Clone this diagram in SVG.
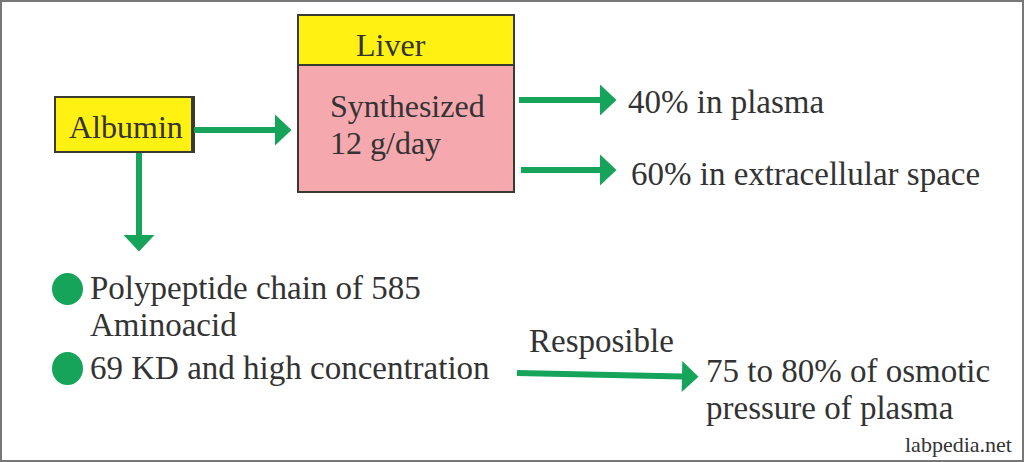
<svg xmlns="http://www.w3.org/2000/svg" width="1024" height="462" viewBox="0 0 1024 462" font-family="'Liberation Serif', 'Times New Roman', 'DejaVu Serif', serif">
<style>
text{font-family:'Liberation Serif','Times New Roman','DejaVu Serif',serif;fill:#333}
.t{font-size:33px}
.s{font-size:32px}
.w{font-size:22px}
.box{stroke:#3a3a30;stroke-width:2}
.yel{fill:#fff212}
.pink{fill:#f5a9af}
.conn line{stroke:#16a35a;stroke-width:6;fill:none}
.dot{fill:#16a35a}
</style>
<defs>
<marker id="ah" markerUnits="userSpaceOnUse" markerWidth="17" markerHeight="32" refX="0" refY="15.5" orient="auto" overflow="visible">
<path d="M0,0 L16.5,15.5 L0,31 Z" fill="#16a35a"/>
</marker>
</defs>
<rect x="1" y="1" width="1022" height="460" fill="#fff" stroke="#777" stroke-width="2"/>
<g id="albumin">
<rect class="box yel" x="55" y="97" width="139" height="55"/>
<rect x="191" y="97" width="3" height="55" fill="#3a3a30"/>
<text class="s" x="69" y="138">Albumin</text>
</g>
<g id="liver">
<rect class="box yel" x="298" y="15" width="216" height="50"/>
<rect class="box pink" x="298" y="65" width="216" height="127"/>
<text class="s" x="356" y="56">Liver</text>
<text class="s" x="330" y="117">Synthesized</text>
<text class="s" x="330" y="154">12 g/day</text>
</g>
<g id="plasma">
<text class="t" x="628" y="113">40% in plasma</text>
</g>
<g id="extracellular">
<text class="t" x="631" y="185">60% in extracellular space</text>
</g>
<g id="properties">
<ellipse class="dot" cx="67.5" cy="289" rx="15.5" ry="16"/>
<ellipse class="dot" cx="67.5" cy="368.5" rx="15.5" ry="16.5"/>
<text class="t" x="90" y="299">Polypeptide chain of 585</text>
<text class="t" x="90" y="336">Aminoacid</text>
<text class="t" x="90" y="379">69 KD and high concentration</text>
</g>
<g id="osmotic">
<text class="t" x="706" y="382">75 to 80% of osmotic</text>
<text class="t" x="706" y="419">pressure of plasma</text>
</g>
<g class="conn" id="connectors">
<line x1="194" y1="130" x2="275" y2="130" marker-end="url(#ah)"/>
<line x1="139" y1="153" x2="139" y2="235" marker-end="url(#ah)"/>
<line x1="519" y1="100" x2="600" y2="100" marker-end="url(#ah)"/>
<line x1="521" y1="170" x2="600" y2="170" marker-end="url(#ah)"/>
<line x1="517" y1="373" x2="682" y2="376.5" marker-end="url(#ah)"/>
<text class="t" x="529" y="352">Resposible</text>
</g>
<text class="w" x="905" y="452">labpedia.net</text>
</svg>
